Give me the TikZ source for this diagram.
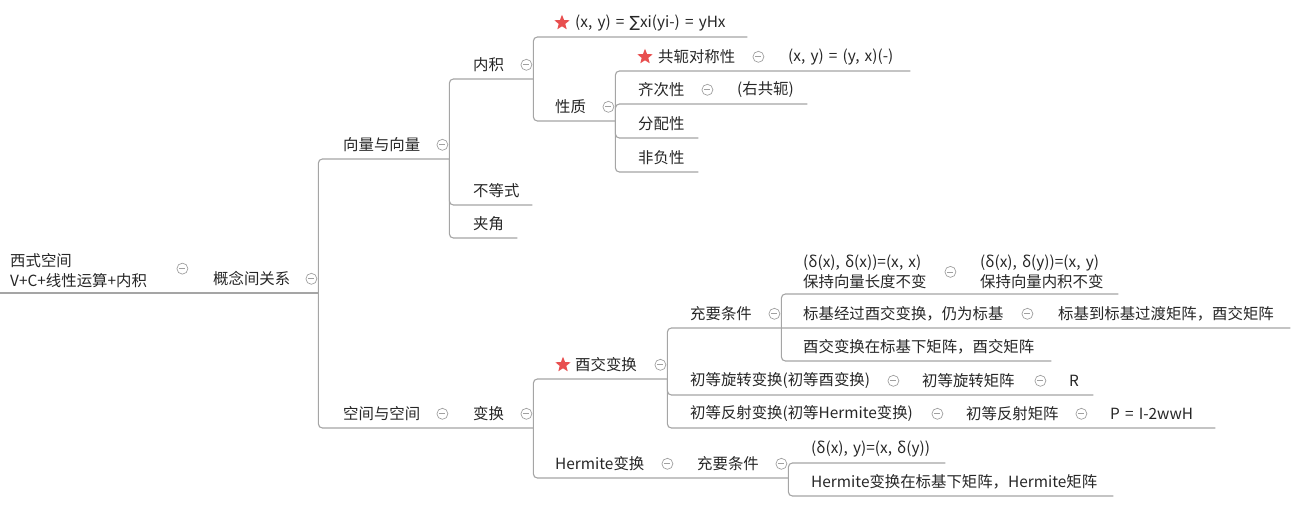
\documentclass[tikz,border=0pt]{standalone}
\usepackage{fontspec}
\setmainfont{Noto Sans CJK SC}
\newfontfamily\symfont{DejaVu Sans}
\usetikzlibrary{shapes.geometric}
\definecolor{ln}{HTML}{A5A5A5}
\definecolor{tx}{HTML}{262626}
\definecolor{st}{HTML}{E84F4F}
\definecolor{fc}{HTML}{A0A0A0}
\newcommand{\lpad}[1]{\hspace*{#1pt}}
\tikzstyle{link}=[draw=ln, line width=1.1pt, rounded corners=4pt]
\tikzstyle{redstar}=[star, star points=5, star point ratio=2.3, fill=st, inner sep=0pt, minimum size=16pt]
\tikzstyle{fold}=[circle, draw=fc, line width=.7pt, inner sep=0pt, minimum size=11pt,
  path picture={\draw[fc, line width=.7pt] ([xshift=-3pt]path picture bounding box.center) -- ([xshift=3pt]path picture bounding box.center);}]
\tikzset{topic/.style={anchor=south west, inner xsep=0pt, inner ysep=5pt, minimum height=28pt,
  text width=#1, align=left, text=tx, font=\fontsize{15.4}{20}\selectfont}}

\begin{document}
\begin{tikzpicture}[x=1pt, y=-1pt]
      \useasboundingbox (0,0) rectangle (1298,504);

      % root
      \node[topic=189pt] (root) at (0,293) {\lpad{10}西式空间\\\lpad{10}V+C+线性运算+内积};
      \node[topic=129pt] (gx) at (189,293) {\lpad{24}概念间关系};

      % vector and vector
      \node[topic=131pt] (xl) at (318,159) {\lpad{25}向量与向量};
      \node[topic=84pt] (neiji) at (449,79) {\lpad{24}内积};
      \node[topic=83pt] (bdsh) at (449,205) {\lpad{24}不等式};
      \node[topic=68pt] (jiajiao) at (449,238) {\lpad{24}夹角};
      \node[topic=214pt] (sum) at (533,37) {\lpad{42}(x, y) = {\symfont ∑}xi(yi-) = yHx};
      \node[topic=82pt] (xingzhi) at (533,121) {\lpad{22}性质};
      \node[topic=150pt] (gonge) at (615,71) {\lpad{43}共轭对称性};
      \node[topic=145pt] (gedc) at (765,71) {\lpad{23}(x, y) = (y, x)(-)};
      \node[topic=99pt] (qici) at (615,104) {\lpad{23}齐次性};
      \node[topic=93pt] (yougong) at (714,104) {\lpad{23}(右共轭)};
      \node[topic=83pt] (fenpei) at (615,138) {\lpad{23}分配性};
      \node[topic=83pt] (feifu) at (615,172) {\lpad{23}非负性};

      % space and space
      \node[topic=131pt] (kj) at (318,428) {\lpad{25}空间与空间};
      \node[topic=84pt] (bianhuan) at (449,428) {\lpad{24}变换};
      \node[topic=134pt] (youjiao) at (533,379) {\lpad{42}酉交变换};
      \node[topic=141pt] (hermite) at (533,478) {\lpad{22}Hermite变换};
      \node[topic=114pt] (cy1) at (667,328) {\lpad{23}充要条件};
      \node[topic=233pt] (xuanzhuan) at (667,395) {\lpad{23}初等旋转变换(初等酉变换)};
      \node[topic=147pt] (xzjz) at (900,395) {\lpad{22}初等旋转矩阵};
      \node[topic=46pt] (rr) at (1047,395) {\lpad{22}R};
      \node[topic=277pt] (fanshe) at (667,428) {\lpad{23}初等反射变换(初等Hermite变换)};
      \node[topic=144pt] (fsjz) at (944,428) {\lpad{22}初等反射矩阵};
      \node[topic=127pt] (pp) at (1088,428) {\lpad{22}P = I-2wwH};
      \node[topic=176pt] (len) at (781,294) {\lpad{22}(δ(x), δ(x))=(x, x)\\\lpad{22}保持向量长度不变};
      \node[topic=161pt] (nj) at (957,294) {\lpad{23}(δ(x), δ(y))=(x, y)\\\lpad{23}保持向量内积不变};
      \node[topic=253pt] (biaoji) at (781,328) {\lpad{22}标基经过酉交变换，仍为标基};
      \node[topic=256pt] (guodu) at (1034,328) {\lpad{24}标基到标基过渡矩阵，酉交矩阵};
      \node[topic=270pt] (juzhen) at (781,361) {\lpad{22}酉交变换在标基下矩阵，酉交矩阵};
      \node[topic=114pt] (cy2) at (674,478) {\lpad{23}充要条件};
      \node[topic=157pt] (hdelta) at (788,463) {\lpad{23}(δ(x), y)=(x, δ(y))};
      \node[topic=325pt] (hjz) at (788,496) {\lpad{23}Hermite变换在标基下矩阵，Hermite矩阵};

      % stars
      \node[redstar] (s1) at ([xshift=29pt]sum.west) {};
      \node[redstar] (s2) at ([xshift=30pt]gonge.west) {};
      \node[redstar] (s3) at ([xshift=30pt]youjiao.west) {};

      % fold marks
      \foreach \p in {gx, xl, kj, neiji, xingzhi, gonge, qici, bianhuan, youjiao, hermite,
                      cy1, xuanzhuan, xzjz, fanshe, fsjz, len, biaoji, cy2}
        \node[fold] (f-\p) at ([xshift=-7pt]\p.east) {};
      \node[fold] (f-root) at ([xshift=-7pt,yshift=2pt]root.east) {};

      % links
      \draw[link] (root.south west) -- (root.south east) -- (gx.south east);
      \draw[link] (gx.south east) |- (xl.south east);
      \draw[link] (gx.south east) |- (kj.south east) -- (bianhuan.south east);
      \foreach \c in {neiji, bdsh, jiajiao}
        \draw[link] (xl.south east) |- (\c.south east);
      \foreach \c in {sum, xingzhi}
        \draw[link] (neiji.south east) |- (\c.south east);
      \draw[link] (xingzhi.south east) |- (gonge.south east) -- (gedc.south east);
      \draw[link] (xingzhi.south east) |- (qici.south east) -- (yougong.south east);
      \foreach \c in {fenpei, feifu}
        \draw[link] (xingzhi.south east) |- (\c.south east);

      \draw[link] (bianhuan.south east) |- (youjiao.south east);
      \draw[link] (bianhuan.south east) |- (hermite.south east) -- (cy2.south east);
      \draw[link] (youjiao.south east) |- (cy1.south east) -- (biaoji.south east) -- (guodu.south east);
      \draw[link] (youjiao.south east) |- (xuanzhuan.south east) -- (xzjz.south east) -- (rr.south east);
      \draw[link] (youjiao.south east) |- (fanshe.south east) -- (fsjz.south east) -- (pp.south east);
      \draw[link] (cy1.south east) |- (len.south east) -- (nj.south east);
      \draw[link] (cy1.south east) |- (juzhen.south east);
      \foreach \c in {hdelta, hjz}
        \draw[link] (cy2.south east) |- (\c.south east);

    \end{tikzpicture}
\end{document}
